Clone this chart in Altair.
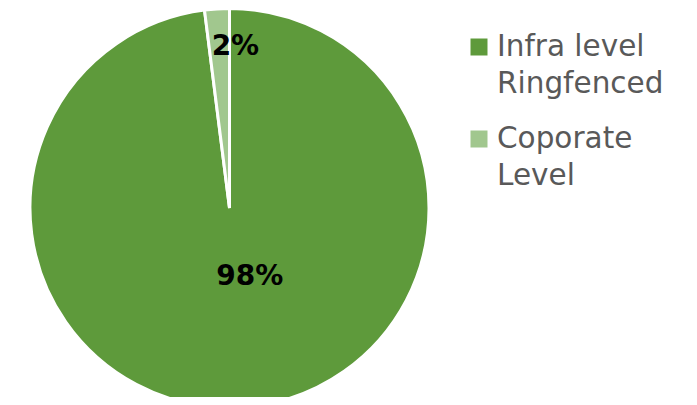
import altair as alt
import pandas as pd

categories = ["Infra level Ringfenced", "Coporate Level"]
legend_labels = ["Infra level\nRingfenced", "Coporate\nLevel"]
values = [98, 2]
pct_labels = ["98%", "2%"]
colors = ["#5E9A3B", "#A1C78E"]

df = pd.DataFrame({
    "category": categories,
    "legend": legend_labels,
    "value": values,
    "label": pct_labels,
})

CX, CY, R = 221.5, 200, 199.5

color = alt.Color("category:N", scale=alt.Scale(domain=categories, range=colors), legend=None)
order = alt.Order("idx:Q")

arcs = alt.Chart().mark_arc(outerRadius=R, stroke="white", strokeWidth=3).encode(
    theta=alt.Theta("value:Q", stack=True), color=color, order=order,
    x=alt.value(CX), y=alt.value(CY),
)

labels = alt.Chart().transform_window(
    cum="sum(value)", sort=[alt.SortField("idx")], frame=[None, 0]
).transform_joinaggregate(
    total="sum(value)"
).transform_calculate(
    mid="(datum.cum - datum.value / 2) / datum.total"
).mark_text(
    font="DejaVu Sans", fontSize=28, fontWeight="bold", color="black", dx=16,
    baseline="middle", align="center",
).encode(
    theta=alt.Theta("mid:Q", stack=None, scale=alt.Scale(domain=[0, 1])),
    radius=alt.Radius("category:N", scale=alt.Scale(domain=categories, range=[69, 161], padding=0)),
    text="label:N",
    x=alt.value(CX), y=alt.value(CY),
)

ly = alt.Y("category:N", scale=alt.Scale(domain=categories, range=[47.5, 139.5], padding=0), axis=None)

leg_sq = alt.Chart().mark_square(size=289, filled=True, opacity=1, yOffset=-8.5).encode(
    x=alt.value(471), y=ly, color=color,
)

leg_txt = alt.Chart().mark_text(
    font="DejaVu Sans", fontSize=29.5, color="#595959", align="left",
    baseline="alphabetic", lineBreak="\n", lineHeight=37,
).encode(
    x=alt.value(489), y=ly, text="legend:N",
)

chart = alt.layer(arcs, labels, leg_sq, leg_txt, data=df).transform_window(
    idx="row_number()"
).resolve_scale(
    theta="independent", radius="independent"
).properties(
    width=681, height=389, autosize=alt.AutoSizeParams(type="none"), padding=0,
).configure_view(stroke=None)

chart.save("out.html", embed_options={"renderer": "svg", "actions": False})
